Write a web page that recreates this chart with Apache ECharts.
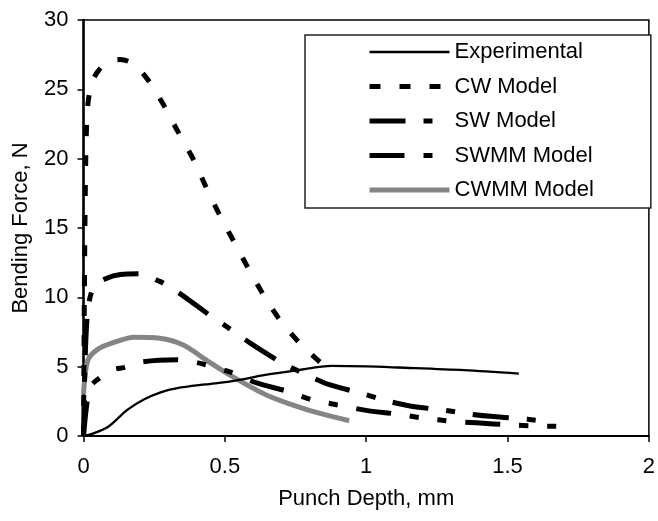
<!DOCTYPE html>
<html>
<head>
<meta charset="utf-8">
<script src="https://cdn.jsdelivr.net/npm/echarts@6/dist/echarts.min.js"></script>
<style>
html,body{margin:0;padding:0;background:#fff;}
#c{width:658px;height:521px;}
</style>
</head>
<body>
<div id="c"></div>
<script>
// ---- data ----
var seriesNames = ['Experimental', 'CW Model', 'SW Model', 'SWMM Model', 'CWMM Model'];
var xTicks = [0, 0.5, 1, 1.5, 2];
var yTicks = [0, 5, 10, 15, 20, 25, 30];

var experimental = [[0,0],[0.03,0.15],[0.086,0.65],[0.156,1.9],[0.215,2.65],[0.273,3.15],[0.332,3.45],[0.431,3.72],[0.526,3.95],[0.643,4.4],[0.76,4.75],[0.877,5.05],[1.0,5.02],[1.112,4.94],[1.346,4.75],[1.54,4.5]];
var cwModel = [[0,0],[0.003,10],[0.008,20],[0.015,23.8],[0.03,25.5],[0.055,26.4],[0.09,27.0],[0.13,27.15],[0.17,26.9],[0.22,25.9],[0.28,24.0],[0.33,22.1],[0.39,19.9],[0.43,18.1],[0.48,16.0],[0.53,14.1],[0.58,12.2],[0.63,10.4],[0.69,8.5],[0.76,6.8],[0.83,5.45],[0.86,4.95]];
var swModel = [[0,0],[0.005,5],[0.015,9],[0.035,10.7],[0.074,11.3],[0.13,11.65],[0.197,11.7],[0.27,11.15],[0.3,10.8],[0.36,10.0],[0.44,8.8],[0.52,7.7],[0.59,6.7],[0.7,5.3],[0.78,4.5],[0.87,3.7],[0.98,3.1],[1.07,2.55],[1.16,2.15],[1.28,1.85],[1.36,1.6],[1.45,1.4],[1.57,1.2],[1.66,1.0]];
var swmmModel = [[0,0],[0.01,2.0],[0.022,3.5],[0.045,4.0],[0.1,4.75],[0.145,4.95],[0.21,5.35],[0.33,5.5],[0.4,5.3],[0.44,5.1],[0.52,4.6],[0.61,3.85],[0.725,3.2],[0.81,2.6],[0.91,2.2],[1.0,1.85],[1.1,1.6],[1.2,1.3],[1.31,1.05],[1.39,0.95],[1.51,0.8],[1.6,0.72],[1.7,0.7]];
var cwmmModel = [[0,3.0],[0.004,4.0],[0.016,5.5],[0.05,6.25],[0.1,6.7],[0.18,7.12],[0.27,7.05],[0.355,6.55],[0.425,5.6],[0.526,4.3],[0.643,3.0],[0.76,2.1],[0.86,1.5],[0.94,1.1]];

var FONT = "'Liberation Sans', Arial, sans-serif";
var lineStyles = [
  {color:'#000', width:2.3, type:'solid'},
  {color:'#000', width:5, type:[11,19]},
  {color:'#000', width:5, type:[36,18,9,18]},
  {color:'#000', width:5, type:[35,19,9,19,9,19]},
  {color:'#858585', width:5, type:'solid'}
];
var datas = [experimental, cwModel, swModel, swmmModel, cwmmModel];

var chart = echarts.init(document.getElementById('c'), null, {renderer:'canvas'});
var series = datas.map(function(d, i){
  return {
    name: seriesNames[i], type:'line', data:d, symbol:'none', smooth:0.3,
    lineStyle: lineStyles[i], itemStyle:{color:lineStyles[i].color},
    z: i === 4 ? 1 : 2, animation:false
  };
});
chart.setOption({
  backgroundColor:'#fff',
  animation:false,
  grid:{left:83.5, right:5, top:20, bottom:85, show:true, borderColor:'#000', borderWidth:1.5, containLabel:false},
  legend:{
    orient:'vertical', left:305, top:35,
    padding:[6,57,7,62], itemWidth:80, itemHeight:22, itemGap:12.5,
    backgroundColor:'#fff', borderColor:'#222', borderWidth:1.5,
    itemStyle:{opacity:0, borderWidth:0},
    textStyle:{fontFamily:FONT, fontSize:22, color:'#000'},
    data: seriesNames.map(function(n,i){ return {name:n, itemStyle:{opacity:0, borderWidth:0}, lineStyle:{width:lineStyles[i].width, type:lineStyles[i].type, color:lineStyles[i].color}}; })
  },
  xAxis:{
    type:'value', min:xTicks[0], max:xTicks[xTicks.length-1], interval:0.5,
    name:'Punch Depth, mm', nameLocation:'middle', nameGap:52,
    nameTextStyle:{fontFamily:FONT, fontSize:22, color:'#000'},
    axisLine:{show:true, lineStyle:{color:'#000', width:2}},
    axisTick:{show:true, inside:false, length:6, lineStyle:{color:'#000', width:1.5}},
    axisLabel:{fontFamily:FONT, fontSize:22, color:'#000', margin:20, showMaxLabel:true},
    splitLine:{show:false}
  },
  yAxis:{
    type:'value', min:yTicks[0], max:yTicks[yTicks.length-1], interval:5,
    name:'Bending Force, N', nameLocation:'middle', nameGap:52,
    nameTextStyle:{fontFamily:FONT, fontSize:22, color:'#000'},
    axisLine:{show:true, lineStyle:{color:'#000', width:2.5}},
    axisTick:{show:true, inside:false, length:6, lineStyle:{color:'#000', width:1.5}},
    axisLabel:{fontFamily:FONT, fontSize:22, color:'#000', margin:15},
    splitLine:{show:false}
  },
  series: series
});
</script>
</body>
</html>
